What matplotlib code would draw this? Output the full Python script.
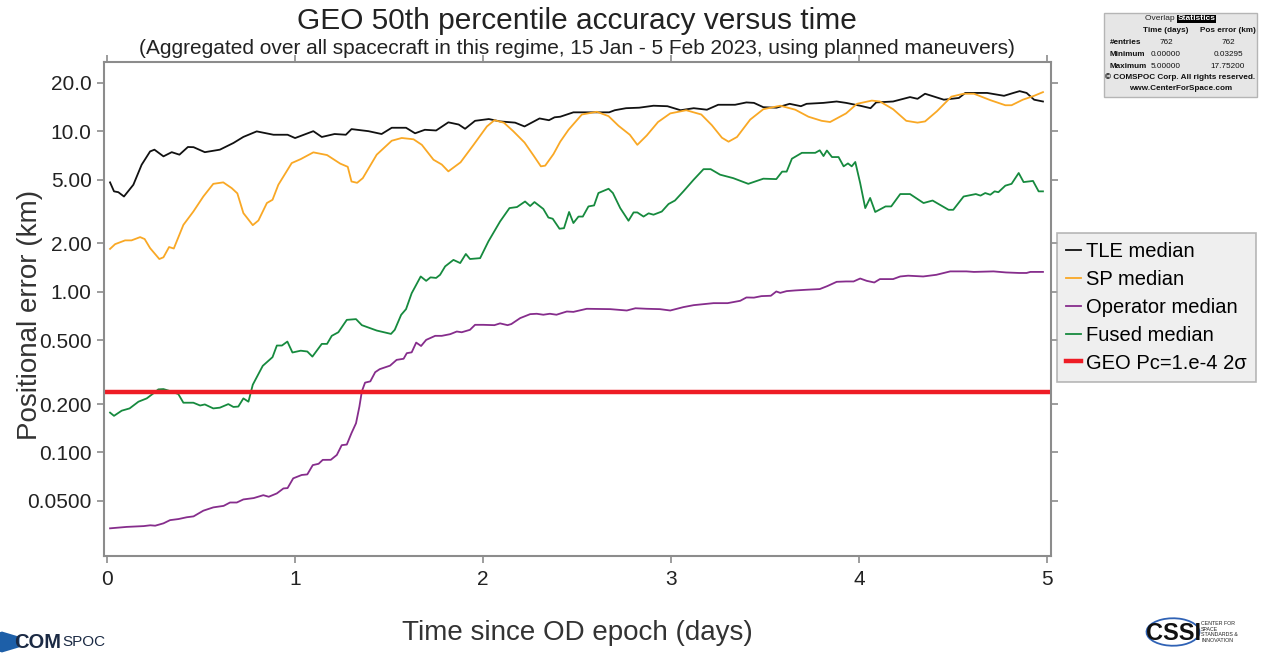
import matplotlib
matplotlib.use("Agg")
import matplotlib.pyplot as plt
from matplotlib.patches import Ellipse, RegularPolygon
from matplotlib.ticker import FixedLocator, FixedFormatter, NullLocator

plt.rcParams["font.family"] = ["Liberation Sans", "DejaVu Sans"]

# values (time in days, error in km)
tle_t = [0.016, 0.037, 0.06, 0.09, 0.14, 0.184, 0.229, 0.252, 0.30, 0.344,
         0.385, 0.43, 0.46, 0.52, 0.60, 0.672, 0.725, 0.796, 0.885, 0.96,
         1.0, 1.097, 1.142, 1.21, 1.27, 1.30, 1.39, 1.46, 1.514, 1.59,
         1.638, 1.69, 1.75, 1.815, 1.87, 1.904, 1.957, 2.03, 2.09, 2.17,
         2.22, 2.30, 2.35, 2.38, 2.41, 2.48, 2.587, 2.67, 2.70, 2.76,
         2.83, 2.906, 2.98, 3.05, 3.12, 3.19, 3.25, 3.34, 3.40, 3.44,
         3.49, 3.56, 3.63, 3.69, 3.72, 3.81, 3.88, 3.93, 4.005, 4.06,
         4.09, 4.18, 4.27, 4.31, 4.35, 4.45, 4.53, 4.564, 4.68, 4.77,
         4.82, 4.853, 4.89, 4.93, 4.977]
tle_v = [4.80, 4.22, 4.17, 3.92, 4.64, 6.18, 7.48, 7.67, 6.97, 7.4,
         7.14, 7.97, 7.95, 7.4, 7.67, 8.44, 9.21, 9.97, 9.5, 9.5,
         9.06, 10.0, 9.2, 9.6, 9.5, 10.3, 10.0, 9.6, 10.5, 10.5,
         9.7, 10.2, 10.1, 11.35, 11.0, 10.35, 11.6, 11.9, 11.5, 11.3,
         10.7, 12.0, 11.7, 12.2, 12.3, 13.1, 13.1, 13.1, 13.5, 13.9,
         14.0, 14.4, 14.3, 13.5, 13.9, 13.6, 14.6, 14.6, 15.1, 15.0,
         14.1, 14.0, 14.8, 14.3, 14.8, 15.0, 15.3, 15.0, 14.4, 13.9,
         15.1, 15.3, 16.3, 15.9, 17.1, 15.7, 16.1, 17.3, 17.3, 16.6,
         17.3, 17.75, 17.3, 15.7, 15.3]

sp_t = [0.016, 0.043, 0.096, 0.13, 0.176, 0.2, 0.229, 0.278, 0.30, 0.33,
        0.355, 0.406, 0.459, 0.512, 0.565, 0.618, 0.663, 0.693, 0.725, 0.775,
        0.805, 0.85, 0.88, 0.911, 0.982, 1.03, 1.097, 1.17, 1.24, 1.28,
        1.30, 1.33, 1.36, 1.434, 1.514, 1.567, 1.63, 1.674, 1.736, 1.78,
        1.815, 1.88, 1.949, 2.02, 2.06, 2.11, 2.16, 2.22, 2.27, 2.307,
        2.33, 2.374, 2.41, 2.454, 2.525, 2.605, 2.667, 2.72, 2.78, 2.82,
        2.87, 2.93, 2.995, 3.08, 3.16, 3.216, 3.27, 3.305, 3.35, 3.42,
        3.49, 3.58, 3.66, 3.73, 3.80, 3.845, 3.93, 3.988, 4.067, 4.11,
        4.18, 4.25, 4.31, 4.35, 4.413, 4.49, 4.555, 4.61, 4.697, 4.777,
        4.81, 4.87, 4.93, 4.977]
sp_v = [1.85, 1.98, 2.09, 2.09, 2.19, 2.13, 1.87, 1.60, 1.64, 1.90,
        1.86, 2.61, 3.16, 3.92, 4.70, 4.8, 4.42, 4.1, 3.09, 2.60,
        2.78, 3.57, 3.74, 4.64, 6.33, 6.7, 7.38, 7.1, 6.28, 6.0,
        4.86, 4.77, 5.1, 7.14, 8.72, 9.07, 8.9, 8.22, 6.64, 6.2,
        5.62, 6.4, 8.22, 10.7, 11.7, 11.3, 10.0, 8.5, 7.0, 6.04,
        6.1, 7.2, 8.6, 10.2, 12.7, 13.2, 12.4, 10.8, 9.5, 8.22,
        9.4, 11.4, 12.9, 13.5, 12.7, 10.9, 9.1, 8.6, 9.2, 11.8,
        13.7, 14.4, 13.6, 12.3, 11.6, 11.4, 12.9, 14.8, 15.5, 15.3,
        13.7, 11.6, 11.3, 11.5, 13.3, 16.4, 17.1, 17.1, 15.6, 14.5,
        14.5, 15.7, 16.6, 17.5]

op_t = [0.016, 0.105, 0.195, 0.23, 0.256, 0.30, 0.335, 0.38, 0.424, 0.46,
        0.512, 0.565, 0.62, 0.654, 0.69, 0.725, 0.78, 0.831, 0.86, 0.903,
        0.938, 0.96, 0.99, 1.035, 1.065, 1.094, 1.125, 1.147, 1.19, 1.222,
        1.248, 1.275, 1.30, 1.324, 1.342, 1.355, 1.372, 1.40, 1.426, 1.45,
        1.505, 1.54, 1.577, 1.594, 1.62, 1.644, 1.67, 1.697, 1.745, 1.78,
        1.825, 1.86, 1.886, 1.93, 1.957, 2.0, 2.06, 2.09, 2.13, 2.15,
        2.197, 2.25, 2.285, 2.32, 2.355, 2.39, 2.445, 2.48, 2.551, 2.676,
        2.764, 2.81, 2.87, 2.94, 2.995, 3.065, 3.12, 3.225, 3.30, 3.367,
        3.40, 3.44, 3.48, 3.53, 3.559, 3.58, 3.614, 3.66, 3.72, 3.79,
        3.83, 3.88, 3.93, 3.97, 4.005, 4.04, 4.08, 4.11, 4.18, 4.218,
        4.26, 4.34, 4.41, 4.484, 4.57, 4.61, 4.714, 4.78, 4.85, 4.89,
        4.91, 4.977]
op_v = [0.0337, 0.0344, 0.0348, 0.0352, 0.035, 0.0362, 0.0379, 0.0385, 0.0395, 0.040,
        0.0434, 0.0455, 0.0465, 0.0488, 0.0488, 0.051, 0.052, 0.0542, 0.053, 0.0556,
        0.0597, 0.060, 0.069, 0.0724, 0.073, 0.0834, 0.085, 0.0899, 0.090, 0.0965,
        0.111, 0.112, 0.132, 0.152, 0.193, 0.24, 0.272, 0.277, 0.316, 0.33,
        0.347, 0.377, 0.383, 0.415, 0.42, 0.483, 0.46, 0.502, 0.532, 0.532,
        0.545, 0.566, 0.56, 0.58, 0.623, 0.623, 0.62, 0.636, 0.62, 0.63,
        0.686, 0.726, 0.73, 0.72, 0.73, 0.72, 0.754, 0.75, 0.784, 0.78,
        0.765, 0.79, 0.784, 0.78, 0.765, 0.803, 0.826, 0.85, 0.85, 0.879,
        0.922, 0.92, 0.94, 0.945, 1.005, 0.985, 1.01, 1.02, 1.03, 1.04,
        1.085, 1.154, 1.16, 1.16, 1.21, 1.17, 1.143, 1.2, 1.2, 1.246,
        1.26, 1.246, 1.276, 1.34, 1.34, 1.33, 1.34, 1.32, 1.31, 1.31,
        1.33, 1.33]

fu_t = [0.016, 0.037, 0.078, 0.12, 0.167, 0.211, 0.246, 0.273, 0.30, 0.33,
        0.379, 0.406, 0.459, 0.495, 0.52, 0.565, 0.60, 0.645, 0.672, 0.698,
        0.725, 0.752, 0.775, 0.828, 0.88, 0.903, 0.93, 0.959, 0.986, 1.03,
        1.065, 1.092, 1.142, 1.17, 1.195, 1.23, 1.275, 1.324, 1.355, 1.434,
        1.51, 1.53, 1.564, 1.59, 1.62, 1.668, 1.697, 1.72, 1.75, 1.771,
        1.798, 1.842, 1.878, 1.908, 1.93, 1.984, 2.028, 2.09, 2.14, 2.18,
        2.223, 2.25, 2.273, 2.32, 2.347, 2.37, 2.406, 2.43, 2.457, 2.48,
        2.507, 2.53, 2.56, 2.59, 2.613, 2.667, 2.69, 2.729, 2.773, 2.80,
        2.82, 2.853, 2.88, 2.906, 2.95, 2.986, 3.02, 3.065, 3.119, 3.172,
        3.21, 3.26, 3.33, 3.41, 3.49, 3.559, 3.59, 3.614, 3.642, 3.695,
        3.766, 3.79, 3.81, 3.828, 3.855, 3.89, 3.917, 3.94, 3.96, 3.979,
        4.005, 4.032, 4.058, 4.085, 4.14, 4.17, 4.218, 4.27, 4.342, 4.39,
        4.475, 4.50, 4.555, 4.62, 4.645, 4.67, 4.697, 4.72, 4.74, 4.777,
        4.81, 4.848, 4.874, 4.924, 4.954, 4.977]
fu_v = [0.177, 0.169, 0.182, 0.188, 0.207, 0.217, 0.233, 0.247, 0.248, 0.242,
        0.231, 0.204, 0.204, 0.196, 0.199, 0.188, 0.19, 0.2, 0.192, 0.193,
        0.217, 0.207, 0.264, 0.346, 0.392, 0.463, 0.463, 0.49, 0.419, 0.43,
        0.425, 0.395, 0.474, 0.474, 0.532, 0.56, 0.669, 0.676, 0.62, 0.574,
        0.547, 0.58, 0.719, 0.78, 0.98, 1.246, 1.17, 1.23, 1.22, 1.276,
        1.44, 1.58, 1.51, 1.72, 1.6, 1.62, 2.06, 2.74, 3.32, 3.37,
        3.65, 3.42, 3.62, 3.28, 2.9, 2.85, 2.47, 2.49, 3.14, 2.68,
        2.94, 2.94, 3.4, 3.45, 4.12, 4.38, 4.12, 3.32, 2.77, 3.12,
        3.12, 2.94, 3.08, 3.02, 3.16, 3.52, 3.7, 4.22, 4.98, 5.8,
        5.8, 5.36, 5.1, 4.70, 5.06, 5.03, 5.6, 5.6, 6.74, 7.33,
        7.33, 7.6, 7.0, 7.58, 6.9, 6.9, 6.04, 6.3, 6.04, 6.43,
        4.75, 3.32, 3.84, 3.14, 3.4, 3.4, 4.06, 4.06, 3.57, 3.7,
        3.24, 3.24, 3.92, 4.06, 3.97, 4.12, 4.02, 4.22, 4.17, 4.58,
        4.70, 5.49, 4.82, 4.9, 4.22, 4.22]

geo_threshold = 0.238

y_ticks = [0.05, 0.1, 0.2, 0.5, 1, 2, 5, 10, 20]
y_tick_labels = ["0.0500", "0.100", "0.200", "0.500", "1.00", "2.00", "5.00", "10.0", "20.0"]
x_ticks = [0, 1, 2, 3, 4, 5]

stats_rows = [
    ("", "Time (days)", "Pos error (km)"),
    ("#entries", "762", "762"),
    ("Minimum", "0.00000", "0.03295"),
    ("Maximum", "5.00000", "17.75200"),
]

GRAY = "#8c8c8c"
W, H = 1261, 654

fig = plt.figure(figsize=(12.61, 6.54), dpi=100)
ax = fig.add_axes([0.0825, 0.150, 0.751, 0.755])

ax.plot(tle_t, tle_v, color="#111111", lw=1.3, label="TLE median")
ax.plot(sp_t, sp_v, color="#f9a825", lw=1.3, label="SP median")
ax.plot(op_t, op_v, color="#862d8c", lw=1.3, label="Operator median")
ax.plot(fu_t, fu_v, color="#168a3e", lw=1.3, label="Fused median")
ax.axhline(geo_threshold, color="#ee1c25", lw=3.2, label="GEO Pc=1.e-4 2\u03c3")

ax.set_yscale("log")
ax.set_xlim(-0.016, 5.02)
ax.set_ylim(0.0227, 26.9)
ax.yaxis.set_major_locator(FixedLocator(y_ticks))
ax.yaxis.set_major_formatter(FixedFormatter(y_tick_labels))
ax.yaxis.set_minor_locator(NullLocator())
ax.set_xticks(x_ticks)
ax.tick_params(axis="both", which="major", direction="out", length=5, width=1.2,
               color=GRAY, labelsize=15, labelcolor="#222222",
               top=True, right=True, labeltop=False, labelright=False)
ax.tick_params(axis="x", pad=5)
ax.tick_params(axis="y", pad=4)
for sp in ax.spines.values():
    sp.set_color(GRAY)
    sp.set_linewidth(1.5)

fig.text(30 / W, 1 - 315 / H, "Positional error (km)", fontsize=20, color="#333333",
         ha="center", va="center", rotation=90)
fig.text(577 / W, 1 - 633 / H, "Time since OD epoch (days)", fontsize=20, color="#333333",
         ha="center", va="center")

fig.text(577 / W, 1 - 21 / H, "GEO 50th percentile accuracy versus time", fontsize=21.5,
         color="#222222", ha="center", va="center")
fig.text(577 / W, 1 - 48 / H,
         "(Aggregated over all spacecraft in this regime, 15 Jan - 5 Feb 2023, using planned maneuvers)",
         fontsize=15, color="#222222", ha="center", va="center")

leg = fig.legend(loc="upper left", bbox_to_anchor=(1057 / W, 1 - 233 / H), fontsize=14.5,
                 frameon=True, fancybox=False, handlelength=0.75, handletextpad=0.25,
                 borderpad=0.45, labelspacing=0.44, borderaxespad=0)
leg.get_frame().set_facecolor("#ebebeb")
leg.get_frame().set_edgecolor("#a6a6a6")
leg.get_frame().set_linewidth(1.2)

# statistics box, top right
bx0, by0, bw, bh = 1104 / W, 1 - 97 / H, 153 / W, 84 / H
fig.patches.append(plt.Rectangle((bx0, by0), bw, bh, transform=fig.transFigure,
                                 facecolor="#e6e6e6", edgecolor="#b5b5b5", lw=1))
fig.text(bx0 + bw * 0.48, 1 - 19 / H, "Overlap ", fontsize=6, ha="right",
         va="center", color="#222222")
fig.text(bx0 + bw * 0.48, 1 - 19 / H, "Statistics", fontsize=6, ha="left",
         va="center", color="white", weight="bold",
         bbox=dict(facecolor="black", edgecolor="none", pad=0.6))
col_x = [1110 / W, 1166 / W, 1228 / W]
row_y = [30, 42, 54, 66]
for i, row in enumerate(stats_rows):
    yy = 1 - row_y[i] / H
    for j, cell in enumerate(row):
        if not cell:
            continue
        fig.text(col_x[j], yy, cell, fontsize=5.9,
                 ha="left" if j == 0 else "center", va="center", color="#111111",
                 weight="bold" if (i == 0 or j == 0) else "normal")
fig.text(bx0 + bw / 2, 1 - 77 / H, "\u00a9 COMSPOC Corp. All rights reserved.",
         fontsize=5.9, ha="center", va="center", weight="bold", color="#111111")
fig.text(bx0 + bw / 2, 1 - 88 / H, "www.CenterForSpace.com", fontsize=5.9,
         ha="center", va="center", weight="bold", color="#111111")

# COMSPOC logo, bottom left
fig.patches.append(RegularPolygon((2 / W, 1 - 642 / H), 6, radius=0.016,
                                  transform=fig.transFigure, facecolor="#1d5fa8",
                                  edgecolor="none"))
fig.text(14 / W, 1 - 642 / H, "COM", fontsize=14.5, weight="bold",
         color="#1b2a44", ha="left", va="center")
fig.text(62 / W, 1 - 642 / H, "SPOC", fontsize=11, color="#1b2a44",
         ha="left", va="center")

# CSSI logo, bottom right
fig.patches.append(Ellipse((1173 / W, 1 - 632 / H), 0.042, 0.042, angle=25,
                           transform=fig.transFigure, facecolor="none",
                           edgecolor="#2f62b5", lw=1.3))
fig.text(1174 / W, 1 - 633 / H, "CSSI", fontsize=17, weight="bold",
         color="#111111", ha="center", va="center")
fig.text(1201 / W, 1 - 632 / H, "CENTER FOR\nSPACE\nSTANDARDS &\nINNOVATION",
         fontsize=3.8, color="#222222", ha="left", va="center", linespacing=1.1)

fig.savefig("out.png", dpi=100)
